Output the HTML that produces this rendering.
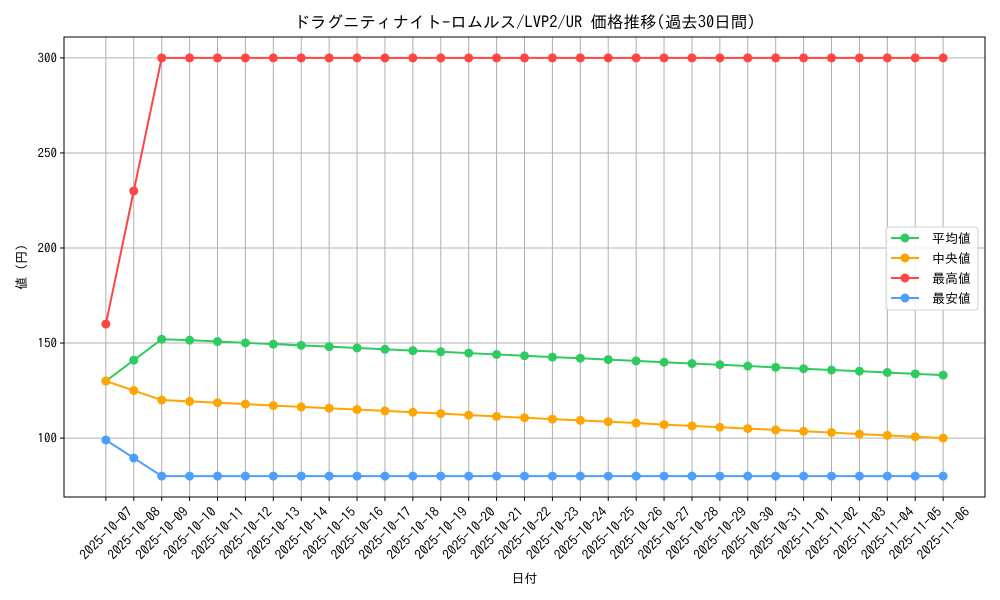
<!DOCTYPE html>
<html><head><meta charset="utf-8"><style>
body{margin:0;background:#fff;}
svg{display:block;font-family:"IPAGothic","Noto Sans CJK JP",sans-serif;}
</style></head><body>
<svg id="c" width="1000" height="600" xmlns="http://www.w3.org/2000/svg"></svg>
<script>
const dates=["2025-10-07","2025-10-08","2025-10-09","2025-10-10","2025-10-11","2025-10-12","2025-10-13","2025-10-14","2025-10-15","2025-10-16","2025-10-17","2025-10-18","2025-10-19","2025-10-20","2025-10-21","2025-10-22","2025-10-23","2025-10-24","2025-10-25","2025-10-26","2025-10-27","2025-10-28","2025-10-29","2025-10-30","2025-10-31","2025-11-01","2025-11-02","2025-11-03","2025-11-04","2025-11-05","2025-11-06"];
const avgValues=[130,141,152,151.5,150.8,150.1,149.4,148.8,148.1,147.4,146.7,146.0,145.4,144.7,144.0,143.3,142.6,142.0,141.3,140.6,139.9,139.2,138.6,137.9,137.2,136.5,135.8,135.2,134.5,133.8,133.1];
const medianValues=[130,125,120,119.3,118.6,117.9,117.1,116.4,115.7,115.0,114.3,113.6,112.9,112.1,111.4,110.7,110.0,109.3,108.6,107.9,107.1,106.4,105.7,105.0,104.3,103.6,102.9,102.1,101.4,100.7,100];
const maxValues=[160,230,300,300,300,300,300,300,300,300,300,300,300,300,300,300,300,300,300,300,300,300,300,300,300,300,300,300,300,300,300];
const minValues=[99,89.5,80,80,80,80,80,80,80,80,80,80,80,80,80,80,80,80,80,80,80,80,80,80,80,80,80,80,80,80,80];
const yTicks=[100,150,200,250,300];

const NS="http://www.w3.org/2000/svg",svg=document.getElementById('c');
const L=64,R=985,T=37,B=497;
const xs=i=>L+(i+1.5)*(R-L)/(dates.length-1+3);
const ys=v=>B-(v-69)/(311-69)*(B-T);
function el(t,a,p){const e=document.createElementNS(NS,t);for(const k in a)e.setAttribute(k,a[k]);(p||svg).appendChild(e);return e;}

const grid=el('g',{});


dates.forEach((d,i)=>{const x=xs(i);
 el('line',{x1:x,x2:x,y1:T,y2:B,stroke:'#b0b0b0','stroke-width':1},grid);
 el('line',{x1:x,x2:x,y1:B,y2:B+4,stroke:'#000'});
 const cy=B+36;
 const t=el('text',{x:x,y:cy,'font-size':13.5,'text-anchor':'middle','dominant-baseline':'central',transform:`rotate(-45 ${x} ${cy})`});
 
 
 t.textContent=d;});
yTicks.forEach(v=>{const y=ys(v);
 el('line',{x1:L,x2:R,y1:y,y2:y,stroke:'#b0b0b0','stroke-width':1},grid);
 el('line',{x1:L-4,x2:L,y1:y,y2:y,stroke:'#000'});
 const t=el('text',{x:L-7,y:y+4.5,'font-size':13,'text-anchor':'end'});
 
 
 t.textContent=v;});

const series=[[avgValues,'#2ecc60','平均値','avg'],[medianValues,'#ffa500','中央値','median'],[maxValues,'#ff4444','最高値','max'],[minValues,'#4d9fff','最安値','min']];
series.forEach(([vals,c,n,k])=>{const g=el('g',{});
 
 
 el('polyline',{points:vals.map((v,i)=>xs(i)+','+ys(v)).join(' '),fill:'none',stroke:c,'stroke-width':2},g);
 vals.forEach((v,i)=>{const m=el('circle',{cx:xs(i),cy:ys(v),r:4.5,fill:c},g);
  
  });});

const frame=el('rect',{x:L,y:T,width:R-L,height:B-T,fill:'none',stroke:'#000','stroke-width':1});



const lg=el('g',{});


el('rect',{x:886,y:227,width:92,height:83,rx:3,fill:'#fff','fill-opacity':0.85,stroke:'#d0d0d0'},lg);
series.forEach(([v,c,n,k],j)=>{const y=238+j*20;
 const e=el('g',{},lg);
 
 
 el('line',{x1:891,x2:919,y1:y,y2:y,stroke:c,'stroke-width':2},e);
 el('circle',{cx:905,cy:y,r:4.5,fill:c},e);
 const t=el('text',{x:932,y:y+5,'font-size':13},e);t.textContent=n;});

const title=el('text',{x:524.5,y:28,'font-size':16.5,'text-anchor':'middle'});


title.textContent='ドラグニティナイト-ロムルス/LVP2/UR 価格推移(過去30日間)';
const xt=el('text',{x:524.5,y:583,'font-size':13,'text-anchor':'middle'});


xt.textContent='日付';
const yt=el('text',{x:26,y:267,'font-size':13,'text-anchor':'middle',transform:'rotate(-90 26 267)'});


yt.textContent='値 (円)';
</script>
</body></html>
